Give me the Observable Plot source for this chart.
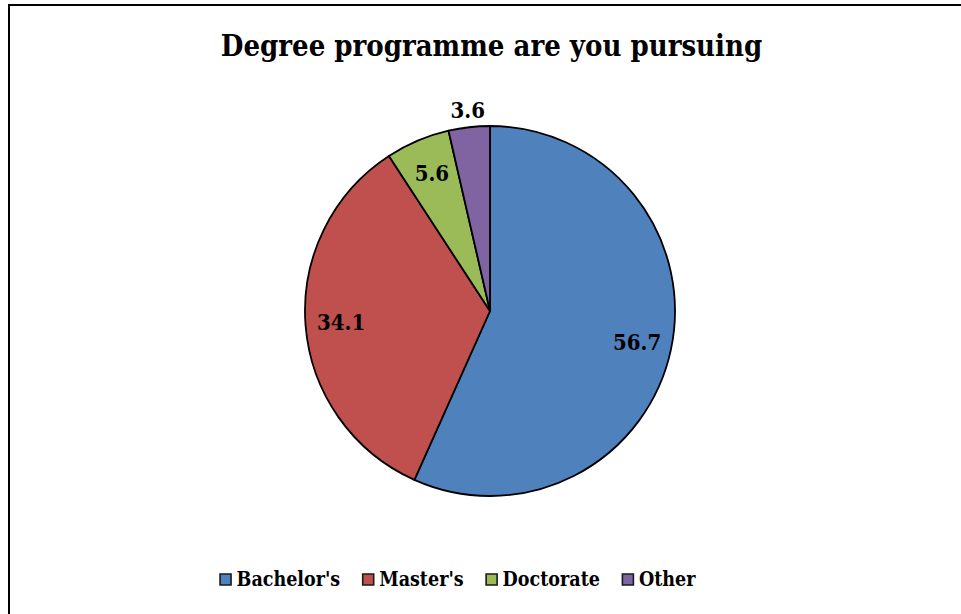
<!DOCTYPE html>
<html>
<head>
<meta charset="utf-8">
<script src="https://cdn.jsdelivr.net/npm/d3@7"></script>
<script src="https://cdn.jsdelivr.net/npm/@observablehq/plot@0.6"></script>
<style>
  html, body { margin: 0; padding: 0; background: #fff; overflow: hidden; }
  #wrap { position: relative; width: 961px; height: 614px; overflow: hidden; }
  #border { position: absolute; left: 8px; top: 4px; width: 980px; height: 640px; border: 2px solid #000; box-sizing: border-box; }
  #chart { position: absolute; left: 0; top: 0; }
  #chart svg { font-family: "DejaVu Serif Condensed", "DejaVu Serif", serif; font-stretch: condensed; }
</style>
</head>
<body>
<div id="wrap"><div id="border"></div><div id="chart"></div></div>
<script>
const title = "Degree programme are you pursuing";
const categories = ["Bachelor's", "Master's", "Doctorate", "Other"];
const values = [56.7, 34.1, 5.6, 3.6];
const colors = ["#4F81BD", "#C0504D", "#9BBB59", "#8064A2"];

const W = 961, H = 614;
const cx = 490, cy = 311, R = 185;
const FONT = '"DejaVu Serif Condensed", "DejaVu Serif", serif';

const data = categories.map((c, i) => ({category: c, value: values[i]}));
const arcs = d3.pie().sort(null).value(d => d.value)(data);
const mid = a => (a.startAngle + a.endAngle) / 2;
const labelK = a => a.data.value < 5 ? 1.09 : 0.81;

// legend layout via text measurement
const legendFontSize = 19.5;
const ctx = document.createElement("canvas").getContext("2d");
ctx.font = `bold ${legendFontSize}px ${FONT}`;
const sw = 12, gapSwText = 5, gapItem = 22;
const items = [];
let xcur = 0;
categories.forEach((c, i) => {
  const tw = ctx.measureText(c).width;
  items.push({category: c, sx: xcur, tx: xcur + sw + gapSwText});
  xcur += sw + gapSwText + tw + gapItem;
});
const legendTotal = xcur - gapItem;
const legendCenter = 457;
const legendStart = legendCenter - legendTotal / 2;
const legendY = 579;

const pieMark = (index, scales) => {
  const x0 = scales.x(0), y0 = scales.y(0), r = scales.x(1) - scales.x(0);
  const arc = d3.arc().innerRadius(0).outerRadius(r);
  const g = d3.create("svg:g").attr("transform", `translate(${x0},${y0})`);
  g.selectAll("path").data(arcs).join("path")
    .attr("d", arc)
    .attr("fill", d => scales.color(d.data.category))
    .attr("stroke", "#000")
    .attr("stroke-width", 1.8)
    .attr("stroke-linejoin", "round");
  return g.node();
};

const legendMarks = items.flatMap(it => [
  Plot.dot([it.category], {
    frameAnchor: "top-left", dx: legendStart + it.sx + sw / 2, dy: legendY,
    symbol: "square", r: 6.2, fill: d => d, stroke: "#1a1a1a", strokeWidth: 1.6
  }),
  Plot.text([it.category], {
    frameAnchor: "top-left", dx: legendStart + it.tx, dy: legendY,
    text: d => d, textAnchor: "start", lineAnchor: "middle",
    fontSize: legendFontSize, fontWeight: "bold", fill: "#000"
  })
]);

const chart = Plot.plot({
  width: W, height: H,
  margin: 0,
  style: {fontFamily: FONT, background: "transparent"},
  x: {domain: [-1, 1], range: [cx - R, cx + R], axis: null},
  y: {domain: [-1, 1], range: [cy + R, cy - R], axis: null},
  color: {domain: categories, range: colors},
  marks: [
    pieMark,
    Plot.text(arcs, {
      x: a => labelK(a) * Math.sin(mid(a)),
      y: a => labelK(a) * Math.cos(mid(a)),
      text: a => a.data.value.toFixed(1),
      fontSize: 22, fontWeight: "bold", fill: "#000", lineAnchor: "middle"
    }),
    Plot.text([title], {
      frameAnchor: "top-left", dx: 491, dy: 46, textAnchor: "middle", lineAnchor: "middle",
      fontSize: 29, fontWeight: "bold", fill: "#000"
    }),
    ...legendMarks
  ]
});
document.getElementById("chart").appendChild(chart);
</script>
</body>
</html>
